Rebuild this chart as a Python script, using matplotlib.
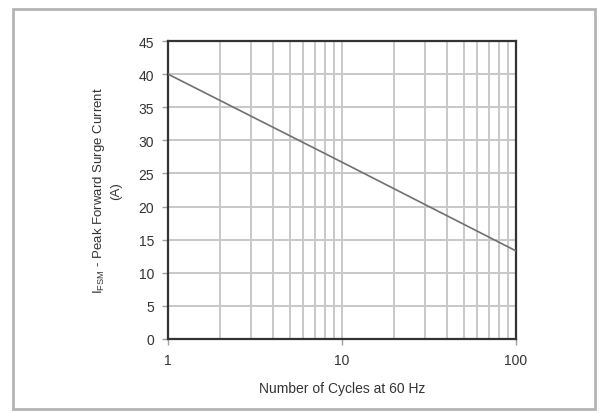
import numpy as np
import matplotlib.pyplot as plt
from matplotlib.patches import Rectangle
from matplotlib.ticker import FixedLocator, NullFormatter

plt.rcParams['font.family'] = ['Liberation Sans', 'DejaVu Sans']

cycles = [1, 10, 100]
surge_current = [40.0, 26.7, 13.3]
y_ticks = [0, 5, 10, 15, 20, 25, 30, 35, 40, 45]
x_ticks = [1, 10, 100]
x_ticklabels = ['1', '10', '100']

fig = plt.figure(figsize=(6.03, 4.14), dpi=100)
fig.patches.append(Rectangle((13 / 603, 1 - 410 / 414), 582 / 603, 400 / 414,
                             transform=fig.transFigure, fill=False,
                             edgecolor='#b4b4b4', linewidth=2))

ax = fig.add_axes([168 / 603, 1 - 340 / 414, 348 / 603, 298 / 414])
ax.set_xscale('log')
ax.set_xlim(1, 100)
ax.set_ylim(0, 45)

ax.plot(cycles, surge_current, color='#707070', linewidth=1.2, zorder=3)

ax.set_yticks(y_ticks)
ax.set_xticks(x_ticks)
ax.set_xticklabels(x_ticklabels)
minor = [m * d for d in (1, 10) for m in range(2, 10)]
ax.xaxis.set_minor_locator(FixedLocator(minor))
ax.xaxis.set_minor_formatter(NullFormatter())
ax.tick_params(axis='x', which='minor', length=0)
ax.tick_params(axis='both', which='major', length=4, width=1, color='#a0a0a0',
               labelsize=10, labelcolor='#333333', pad=6)

ax.grid(True, which='major', axis='y', color='#c8c8c8', linewidth=1.4)
ax.grid(True, which='both', axis='x', color='#c8c8c8', linewidth=1.4)
ax.set_axisbelow(True)

for s in ax.spines.values():
    s.set_color('#333333')
    s.set_linewidth(1.6)

ax.set_xlabel('Number of Cycles at 60 Hz', fontsize=10, color='#333333', labelpad=10)
ax.set_ylabel('I$_{\\mathregular{FSM}}$ - Peak Forward Surge Current\n(A)',
              fontsize=9.5, color='#333333', labelpad=12, linespacing=1.3)

fig.savefig('out.png', dpi=100)
